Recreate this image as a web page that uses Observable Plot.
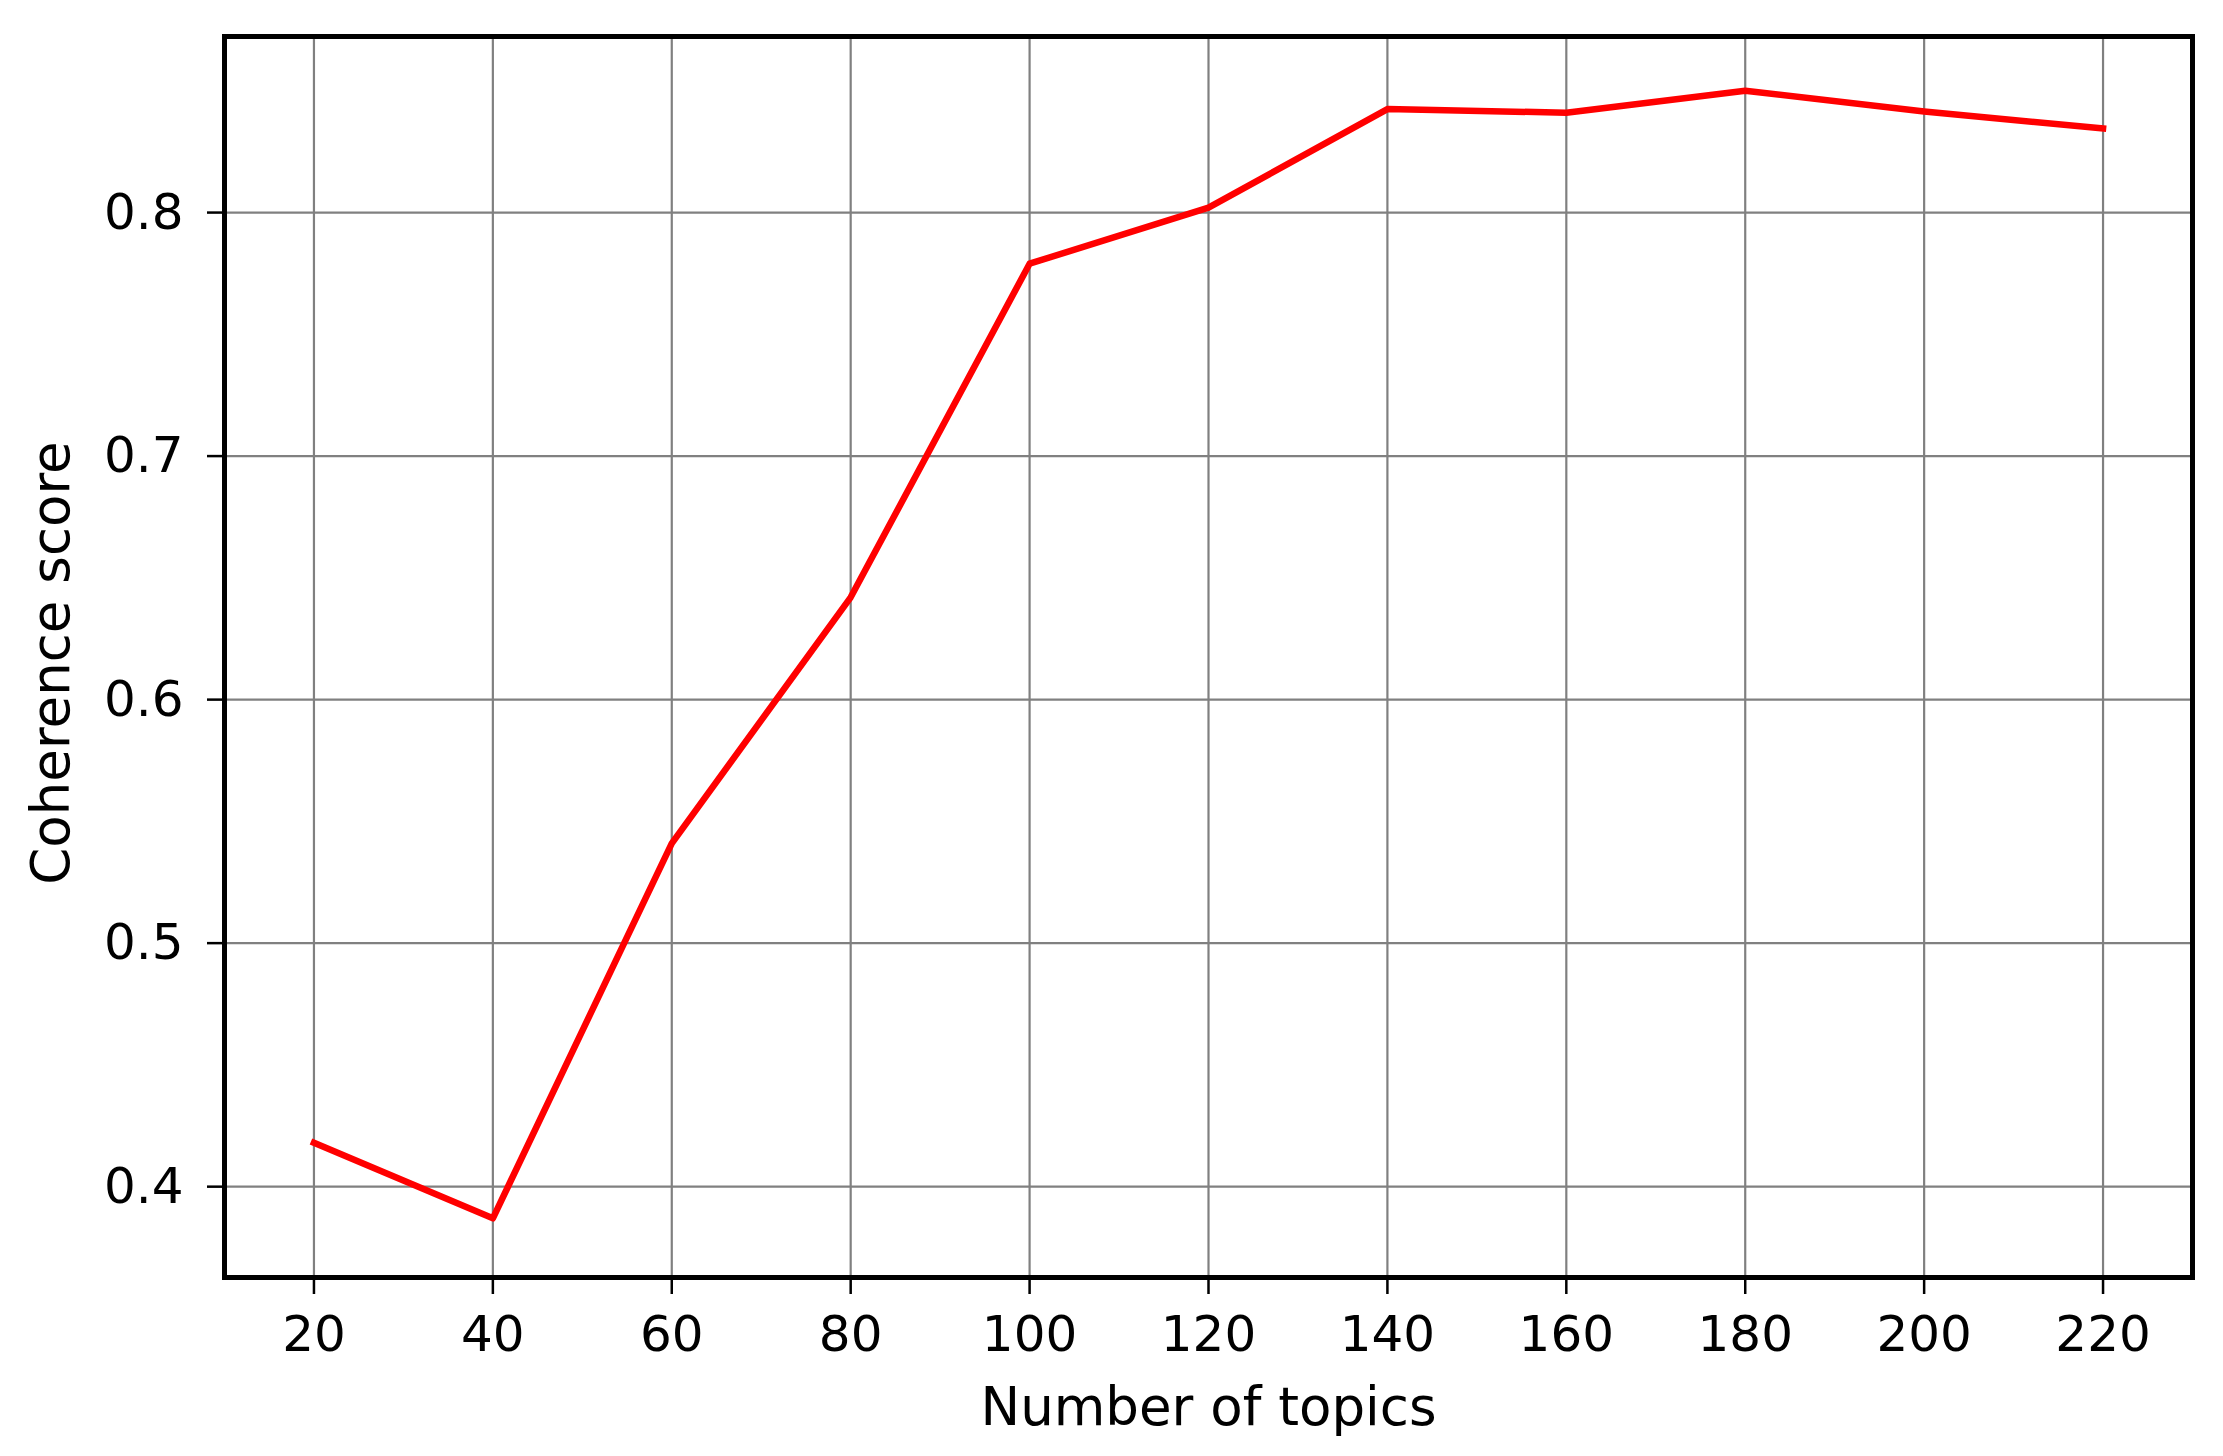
<!DOCTYPE html>
<html>
<head>
<meta charset="utf-8">
<script src="https://cdn.jsdelivr.net/npm/d3@7"></script>
<script src="https://cdn.jsdelivr.net/npm/@observablehq/plot@0.6"></script>
<style>
  html, body { margin: 0; padding: 0; background: white; }
</style>
</head>
<body>
<div id="chart"></div>
<script>
const topics = [20, 40, 60, 80, 100, 120, 140, 160, 180, 200, 220];
const coherence = [0.418, 0.387, 0.541, 0.642, 0.779, 0.802, 0.8425, 0.841, 0.850, 0.8415, 0.8345];
const xTicks = [20, 40, 60, 80, 100, 120, 140, 160, 180, 200, 220];
const yTicks = [0.4, 0.5, 0.6, 0.7, 0.8];
const xLabel = "Number of topics";
const yLabel = "Coherence score";

const data = topics.map((t, i) => ({topics: t, score: coherence[i]}));

const font = "DejaVu Sans, sans-serif";
const chart = Plot.plot({
  width: 2223,
  height: 1456,
  marginLeft: 224,
  marginRight: 31,
  marginTop: 36,
  marginBottom: 179,
  style: {background: "white", color: "black", fontFamily: font, fontSize: "50px"},
  x: {domain: [10, 230]},
  y: {domain: [0.3627, 0.8723]},
  marks: [
    Plot.gridX(xTicks, {stroke: "#808080", strokeOpacity: 1, strokeWidth: 2.2}),
    Plot.gridY(yTicks, {stroke: "#808080", strokeOpacity: 1, strokeWidth: 2.2}),
    Plot.line(data, {x: "topics", y: "score", stroke: "#ff0000", strokeWidth: 6.5, strokeLinejoin: "round", strokeLinecap: "square"}),
    Plot.frame({stroke: "black", strokeWidth: 5}),
    Plot.axisX(xTicks, {tickSize: 17, tickPadding: 21, strokeWidth: 2.5, fontSize: 50, label: null, tickFormat: d3.format("d")}),
    Plot.axisY(yTicks, {tickSize: 17, tickPadding: 24, strokeWidth: 2.5, fontSize: 50, label: null, tickFormat: d3.format(".1f")}),
    Plot.text([xLabel], {frameAnchor: "bottom", dy: 131, textAnchor: "middle", lineAnchor: "middle", fontSize: 53, fill: "black"}),
    Plot.text([yLabel], {frameAnchor: "left", dx: -172, dy: 6, rotate: -90, textAnchor: "middle", lineAnchor: "middle", fontSize: 53, fill: "black"})
  ]
});
document.getElementById("chart").appendChild(chart);
</script>
</body>
</html>
